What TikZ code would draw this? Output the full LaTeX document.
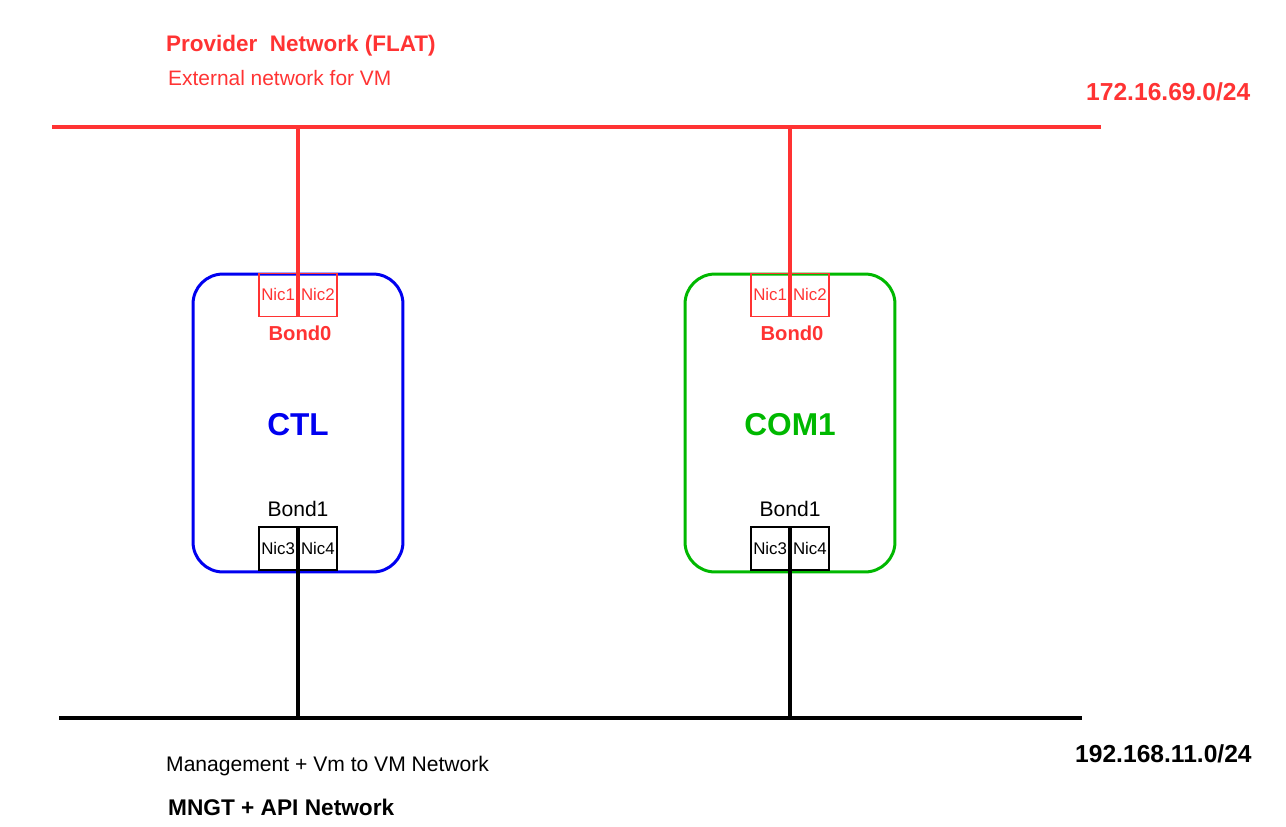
\documentclass[tikz,border=0pt]{standalone}
\usepackage{fontspec}
\setmainfont{Liberation Sans}
\usepackage{xcolor}
\usepackage{tikz}
\usetikzlibrary{positioning}

\definecolor{provred}{RGB}{255,51,51}
\definecolor{ctlblue}{RGB}{0,0,240}
\definecolor{comgreen}{RGB}{0,184,0}

\newcommand{\fsz}[1]{\fontsize{#1}{#1}\selectfont}

\tikzset{
  host/.style={draw, line width=1.7pt, rounded corners=0.6cm, minimum width=4.2cm, minimum height=5.96cm},
  nic/.style={draw, line width=1pt, minimum width=0.76cm, minimum height=0.86cm, inner sep=0pt, font=\fsz{9.6}},
  bus/.style={line width=1.8pt},
  uplink/.style={line width=2pt}
}

\begin{document}
\begin{tikzpicture}[x=0.02cm,y=-0.02cm]
\useasboundingbox (0,0) rectangle (1286,826);
% networks
\coordinate (provw) at (52,127);
\coordinate (prove) at (1101,127);
\coordinate (mgmtw) at (59,718);
\coordinate (mgmte) at (1082,718);
\draw[bus,provred] (provw) -- (prove);
\draw[bus,black] (mgmtw) -- (mgmte);
\node[anchor=west,provred,font=\bfseries\fsz{12.8}] (provtitle) at (160,46) {Provider\ \ Network (FLAT)};
\node[anchor=west,provred,font=\fsz{11.9}] (provsub) at (162,78) {External network for VM};
\node[anchor=west,provred,font=\bfseries\fsz{14}] (provip) at (1080,92) {172.16.69.0/24};
\node[anchor=west,font=\bfseries\fsz{14}] (mgmtip) at (1069,754) {192.168.11.0/24};
\node[anchor=west,font=\fsz{12}] (mgmtsub) at (160,766) {Management + Vm to VM Network};
\node[anchor=west,font=\bfseries\fsz{12.9}] (mgmttitle) at (162,807) {MNGT + API Network};

% hosts
\node[host,draw=ctlblue] (ctl) at (298,423) {};
\node[host,draw=comgreen] (com) at (790,423) {};
\node[ctlblue,font=\bfseries\fsz{18}] (ctllbl) at (298,425) {CTL};
\node[comgreen,font=\bfseries\fsz{18}] (comlbl) at (790,425) {COM1};

% nics
\node[nic,provred,anchor=north east] (ctlnic1) at (ctl.north) {Nic1};
\node[nic,provred,right=0pt of ctlnic1] (ctlnic2) {Nic2};
\node[nic,anchor=south east,yshift=1.5pt] (ctlnic3) at (ctl.south) {Nic3};
\node[nic,right=0pt of ctlnic3] (ctlnic4) {Nic4};
\node[nic,provred,anchor=north east] (comnic1) at (com.north) {Nic1};
\node[nic,provred,right=0pt of comnic1] (comnic2) {Nic2};
\node[nic,anchor=south east,yshift=1.5pt] (comnic3) at (com.south) {Nic3};
\node[nic,right=0pt of comnic3] (comnic4) {Nic4};

\node[provred,font=\bfseries\fsz{11.5}] (ctlbond0) at (300,333) {Bond0};
\node[font=\fsz{12}] (ctlbond1) at (298,509) {Bond1};
\node[provred,font=\bfseries\fsz{11.5}] (combond0) at (792,333) {Bond0};
\node[font=\fsz{12}] (combond1) at (790,509) {Bond1};

% taps
\coordinate (ptap1) at (298,127);
\coordinate (ptap2) at (790,127);
\coordinate (mtap1) at (298,718);
\coordinate (mtap2) at (790,718);
\draw[uplink,provred] (ptap1) -- (ctlnic1.north east);
\draw[uplink,provred] (ptap2) -- (comnic1.north east);
\draw[uplink,black] (ctlnic3.south east) -- (mtap1);
\draw[uplink,black] (comnic3.south east) -- (mtap2);
\end{tikzpicture}
\end{document}
